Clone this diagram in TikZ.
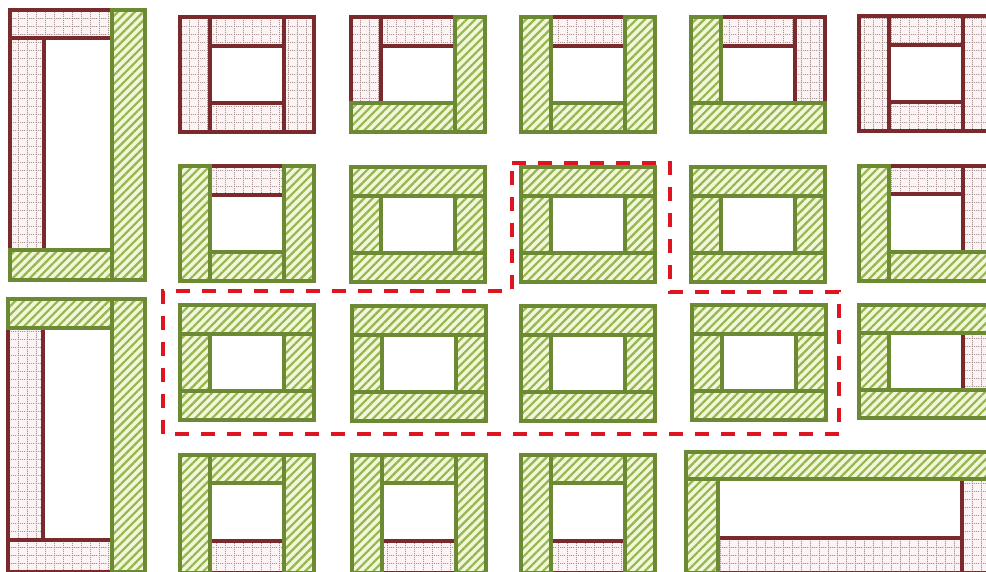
\documentclass[tikz,border=0pt]{standalone}
\usepackage{tikz}
\usetikzlibrary{patterns,patterns.meta}

\definecolor{frameolive}{RGB}{108,138,52}
\definecolor{stripegreen}{RGB}{150,182,80}
\definecolor{palegreen}{RGB}{242,247,218}
\definecolor{framemaroon}{RGB}{122,42,44}
\definecolor{palepink}{RGB}{252,244,244}
\definecolor{gridgray}{RGB}{170,148,148}
\definecolor{dashred}{RGB}{222,20,32}

\pgfdeclarepatternformonly{dotgrid}{\pgfpointorigin}{\pgfpoint{9pt}{8pt}}{\pgfpoint{9pt}{8pt}}{%
  \pgfsetlinewidth{0.8pt}%
  \pgfsetdash{{1.2pt}{1pt}}{0pt}%
  \pgfpathmoveto{\pgfpoint{0pt}{0.5pt}}\pgfpathlineto{\pgfpoint{9pt}{0.5pt}}%
  \pgfpathmoveto{\pgfpoint{0.5pt}{0pt}}\pgfpathlineto{\pgfpoint{0.5pt}{8pt}}%
  \pgfusepath{stroke}}

\begin{document}
\begin{tikzpicture}[x=1pt, y=-1pt,
    brn/.style={draw=framemaroon, line width=3.4pt, preaction={fill=palepink}, pattern=dotgrid, pattern color=gridgray},
    grn/.style={draw=frameolive, line width=3.4pt, preaction={fill=palegreen}, pattern={Lines[angle=45, distance=6pt, line width=2.2pt]}, pattern color=stripegreen},
    route/.style={draw=dashred, line width=3.4pt, dash pattern=on 14pt off 12pt}]
  \fill[white] (0,0) rectangle (986,571);
  \begin{scope}
  \clip (0,0) rectangle (986,571);
  % tall frames on the left
  \begin{scope}[shift={(10,10)}]
    \path[brn] (0,0) rectangle (102,28);
    \path[brn] (0,28) rectangle (34,240);
    \path[grn] (0,240) rectangle (102,270);
    \path[grn] (102,0) rectangle (135,270);
  \end{scope}
  \begin{scope}[shift={(8,299)}]
    \path[brn] (0,29) rectangle (35,241);
    \path[brn] (0,241) rectangle (104,273);
    \path[grn] (0,0) rectangle (104,29);
    \path[grn] (104,0) rectangle (137,273);
  \end{scope}
  % row 1
  \begin{scope}[shift={(180,17)}]
    \path[brn] (0,0) rectangle (30,115);
    \path[brn] (104,0) rectangle (134,115);
    \path[brn] (30,0) rectangle (104,29);
    \path[brn] (30,86) rectangle (104,115);
  \end{scope}
  \begin{scope}[shift={(351,17)}]
    \path[brn] (0,0) rectangle (30,86);
    \path[brn] (30,0) rectangle (104,29);
    \path[grn] (104,0) rectangle (134,115);
    \path[grn] (0,86) rectangle (104,115);
  \end{scope}
  \begin{scope}[shift={(521,17)}]
    \path[brn] (30,0) rectangle (104,29);
    \path[grn] (0,0) rectangle (30,115);
    \path[grn] (104,0) rectangle (134,115);
    \path[grn] (30,86) rectangle (104,115);
  \end{scope}
  \begin{scope}[shift={(691,17)}]
    \path[brn] (30,0) rectangle (104,29);
    \path[brn] (104,0) rectangle (134,86);
    \path[grn] (0,0) rectangle (30,86);
    \path[grn] (0,86) rectangle (134,115);
  \end{scope}
  \begin{scope}[shift={(859,16)}]
    \path[brn] (0,0) rectangle (30,115);
    \path[brn] (104,0) rectangle (134,115);
    \path[brn] (30,0) rectangle (104,29);
    \path[brn] (30,86) rectangle (104,115);
  \end{scope}
  % row 2
  \begin{scope}[shift={(180,166)}]
    \path[brn] (30,0) rectangle (104,29);
    \path[grn] (0,0) rectangle (30,115);
    \path[grn] (104,0) rectangle (134,115);
    \path[grn] (30,86) rectangle (104,115);
  \end{scope}
  \foreach \fx/\fy in {351/167, 521/167, 691/167, 180/305, 352/306, 521/306, 692/305} {
    \begin{scope}[shift={(\fx,\fy)}]
      \path[grn] (0,0) rectangle (134,29);
      \path[grn] (0,86) rectangle (134,115);
      \path[grn] (0,29) rectangle (30,86);
      \path[grn] (104,29) rectangle (134,86);
    \end{scope}
  }
  \begin{scope}[shift={(859,166)}]
    \path[brn] (30,0) rectangle (104,28);
    \path[brn] (104,0) rectangle (134,86);
    \path[grn] (0,0) rectangle (30,115);
    \path[grn] (30,86) rectangle (134,115);
  \end{scope}
  % row 3, right
  \begin{scope}[shift={(859,305)}]
    \path[brn] (104,28) rectangle (134,85);
    \path[grn] (0,0) rectangle (134,28);
    \path[grn] (0,85) rectangle (134,113);
    \path[grn] (0,28) rectangle (30,85);
  \end{scope}
  % row 4
  \foreach \fx in {180, 352, 521} {
    \begin{scope}[shift={(\fx,455)}]
      \path[brn] (30,86) rectangle (104,118);
      \path[grn] (0,0) rectangle (30,118);
      \path[grn] (104,0) rectangle (134,118);
      \path[grn] (30,0) rectangle (104,28);
    \end{scope}
  }
  \begin{scope}[shift={(686,452)}]
    \path[brn] (32,86) rectangle (276,121);
    \path[brn] (276,27) rectangle (306,121);
    \path[grn] (0,0) rectangle (306,27);
    \path[grn] (0,27) rectangle (32,121);
  \end{scope}
  \end{scope}
  % selected group
  \draw[route] (512,163) -- (670,163) -- (670,292) -- (839,292) -- (839,434)
    -- (163,434) -- (163,291) -- (512,291) -- cycle;
  \pgfresetboundingbox
  \useasboundingbox (0,0) rectangle (986,571);
\end{tikzpicture}
\end{document}
